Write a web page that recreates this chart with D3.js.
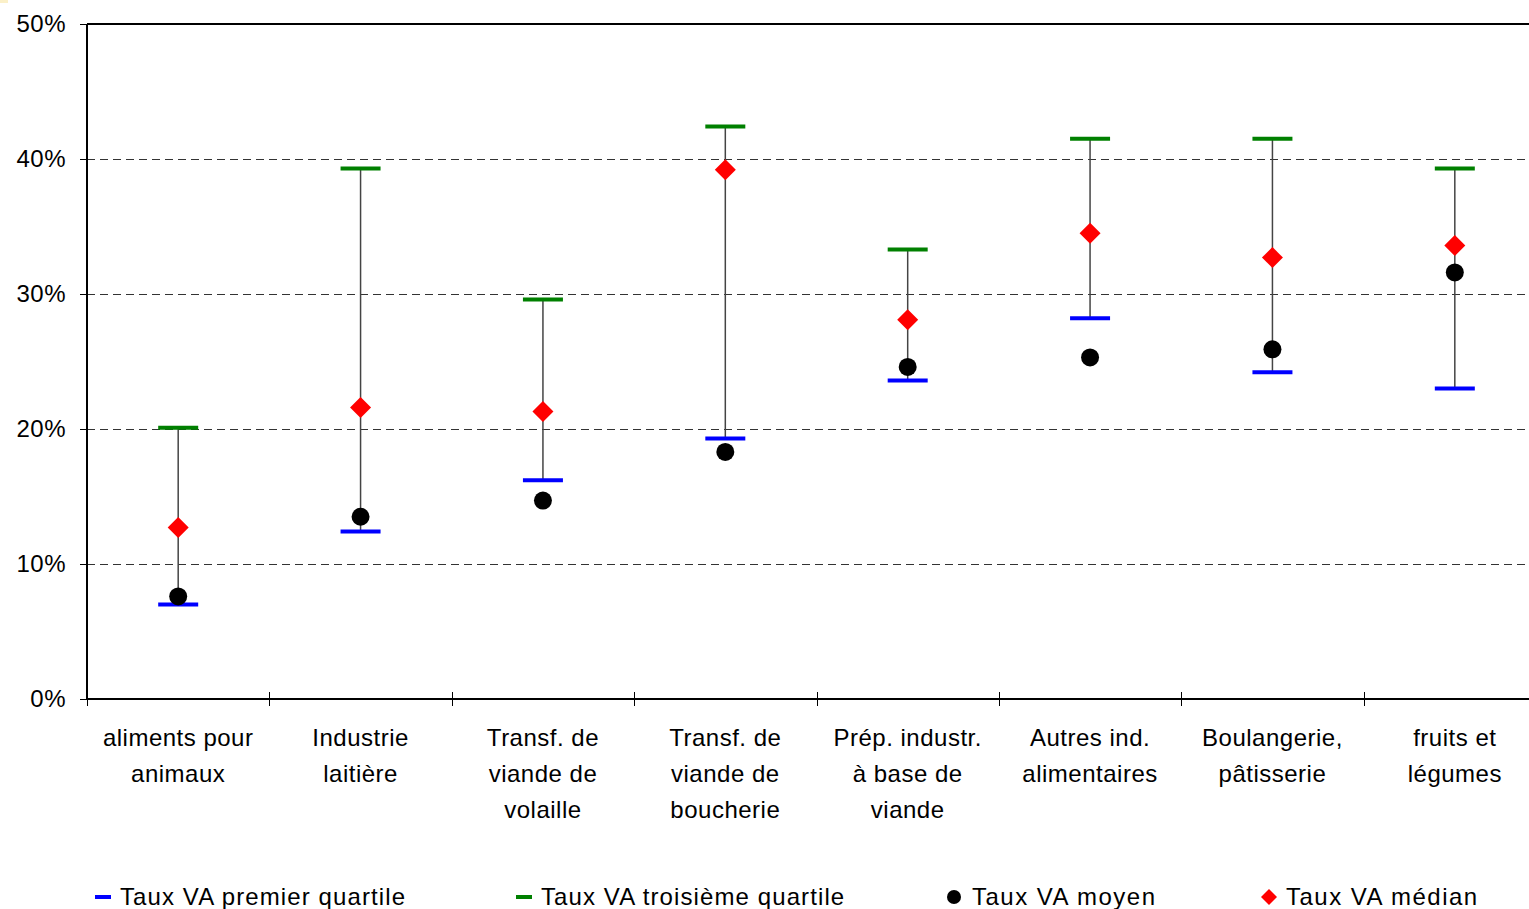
<!DOCTYPE html>
<html>
<head>
<meta charset="utf-8">
<script src="https://cdn.jsdelivr.net/npm/d3@7"></script>
<style>
  body { margin: 0; background: #fff; }
  svg { display: block; font-family: "Liberation Sans", Arial, sans-serif; }
</style>
</head>
<body>
<svg width="1529" height="909"></svg>
<script>
// categories (multi-line labels)
var categories = [
  ["aliments pour", "animaux"],
  ["Industrie", "laitière"],
  ["Transf. de", "viande de", "volaille"],
  ["Transf. de", "viande de", "boucherie"],
  ["Prép. industr.", "à base de", "viande"],
  ["Autres ind.", "alimentaires"],
  ["Boulangerie,", "pâtisserie"],
  ["fruits et", "légumes"]
];

// series values (%)
var q1 = [7.0, 12.4, 16.2, 19.3, 23.6, 28.2, 24.2, 23.0];
var q3 = [20.1, 39.3, 29.6, 42.4, 33.3, 41.5, 41.5, 39.3];
var moyen = [7.6, 13.5, 14.7, 18.3, 24.6, 25.3, 25.9, 31.6];
var median = [12.7, 21.6, 21.3, 39.2, 28.1, 34.5, 32.7, 33.6];

var yTicks = [0, 10, 20, 30, 40, 50];

var legendItems = [
  {label: "Taux VA premier quartile", type: "q1"},
  {label: "Taux VA troisième quartile", type: "q3"},
  {label: "Taux VA moyen", type: "mean"},
  {label: "Taux VA médian", type: "median"}
];

var svg = d3.select("svg");

// plot area
var plotLeft = 87, plotTop = 24, plotBottom = 699, plotRight = 1546;

var x = d3.scaleBand()
    .domain(d3.range(categories.length))
    .range([plotLeft, plotRight]);

var y = d3.scaleLinear()
    .domain([0, 50])
    .range([plotBottom, plotTop]);

// small yellow mark top-left
svg.append("rect").attr("x", 0).attr("y", 0).attr("width", 8).attr("height", 3).attr("fill", "#fbf0c8");

// gridlines (half-pixel offset to keep them crisp)
svg.append("g")
  .selectAll("line")
  .data(yTicks.filter(function(d) { return d > 0 && d < 50; }))
  .enter().append("line")
    .attr("x1", plotLeft).attr("x2", plotRight)
    .attr("y1", function(d) { return y(d) + 0.5; })
    .attr("y2", function(d) { return y(d) + 0.5; })
    .attr("stroke", "#333")
    .attr("stroke-width", 1)
    .attr("stroke-dasharray", "8,5");

// top border
svg.append("line")
    .attr("x1", plotLeft).attr("x2", plotRight)
    .attr("y1", plotTop).attr("y2", plotTop)
    .attr("stroke", "#000").attr("stroke-width", 2);

// y axis
var yAxis = svg.append("g")
    .attr("transform", "translate(" + plotLeft + ",0)")
    .call(d3.axisLeft(y).tickValues(yTicks).tickSize(7).tickPadding(14)
      .tickFormat(function(d) { return d + "%"; }));
yAxis.select(".domain").attr("stroke-width", 2).attr("d", "M0," + plotTop + "V" + plotBottom);
yAxis.selectAll(".tick line").attr("stroke", "#000");
yAxis.selectAll("text")
    .attr("font-size", 24)
    .attr("fill", "#000")
    .attr("letter-spacing", 0.5)
    .attr("font-family", "Liberation Sans, Arial, sans-serif");

// x axis (ticks at band boundaries)
svg.append("line")
    .attr("x1", plotLeft).attr("x2", plotRight)
    .attr("y1", plotBottom).attr("y2", plotBottom)
    .attr("stroke", "#000").attr("stroke-width", 2);

svg.append("g")
  .selectAll("line")
  .data(d3.range(categories.length + 1))
  .enter().append("line")
    .attr("x1", function(i) { return Math.round(plotLeft + i * x.bandwidth()) + 0.5; })
    .attr("x2", function(i) { return Math.round(plotLeft + i * x.bandwidth()) + 0.5; })
    .attr("y1", plotBottom - 7).attr("y2", plotBottom + 7)
    .attr("stroke", "#000").attr("stroke-width", 1);

// category labels
var labels = svg.append("g")
  .selectAll("text")
  .data(categories)
  .enter().append("text")
    .attr("x", function(d, i) { return x(i) + x.bandwidth() / 2; })
    .attr("y", 746)
    .attr("text-anchor", "middle")
    .attr("font-size", 24)
    .attr("letter-spacing", 0.5)
    .attr("fill", "#000");

labels.selectAll("tspan")
  .data(function(d) { return d; })
  .enter().append("tspan")
    .attr("x", function() { return d3.select(this.parentNode).attr("x"); })
    .attr("dy", function(d, j) { return j === 0 ? 0 : 36; })
    .text(function(d) { return d; });

var cx = function(i) { return x(i) + x.bandwidth() / 2; };
var idx = d3.range(categories.length);

// high-low lines
svg.append("g")
  .selectAll("line")
  .data(idx)
  .enter().append("line")
    .attr("x1", cx).attr("x2", cx)
    .attr("y1", function(i) { return y(q1[i]); })
    .attr("y2", function(i) { return y(q3[i]); })
    .attr("stroke", "#444")
    .attr("stroke-width", 1.5);

// quartile dashes
function dashes(data, color) {
  svg.append("g")
    .selectAll("line")
    .data(idx)
    .enter().append("line")
      .attr("x1", function(i) { return cx(i) - 20; })
      .attr("x2", function(i) { return cx(i) + 20; })
      .attr("y1", function(i) { return y(data[i]); })
      .attr("y2", function(i) { return y(data[i]); })
      .attr("stroke", color)
      .attr("stroke-width", 4);
}
dashes(q1, "#0000ff");
dashes(q3, "#008000");

// mean points
svg.append("g")
  .selectAll("circle")
  .data(idx)
  .enter().append("circle")
    .attr("cx", cx)
    .attr("cy", function(i) { return y(moyen[i]); })
    .attr("r", 9)
    .attr("fill", "#000");

// median diamonds
var diamond = "M0,-10.5L10.5,0L0,10.5L-10.5,0Z";
svg.append("g")
  .selectAll("path")
  .data(idx)
  .enter().append("path")
    .attr("transform", function(i) { return "translate(" + cx(i) + "," + y(median[i]) + ")"; })
    .attr("d", diamond)
    .attr("fill", "#ff0000");

// legend
var legendX = [95, 516, 946, 1260];
var lg = svg.append("g")
  .selectAll("g")
  .data(legendItems)
  .enter().append("g")
    .attr("transform", function(d, i) { return "translate(" + legendX[i] + ",897)"; });

lg.each(function(d) {
  var g = d3.select(this);
  if (d.type === "q1" || d.type === "q3") {
    g.append("line").attr("x1", 0).attr("x2", 16).attr("y1", 0).attr("y2", 0)
      .attr("stroke", d.type === "q1" ? "#0000ff" : "#008000").attr("stroke-width", 4);
  } else if (d.type === "mean") {
    g.append("circle").attr("cx", 8).attr("cy", 0).attr("r", 7).attr("fill", "#000");
  } else {
    g.append("path").attr("transform", "translate(9,0)").attr("d", "M0,-8L8,0L0,8L-8,0Z").attr("fill", "#ff0000");
  }
  g.append("text")
    .attr("x", d.type === "q1" || d.type === "q3" ? 25 : 26)
    .attr("y", 8)
    .attr("font-size", 24)
    .attr("letter-spacing", d.type === "mean" || d.type === "median" ? 1.5 : 1.1)
    .text(d.label);
});
</script>
</body>
</html>
